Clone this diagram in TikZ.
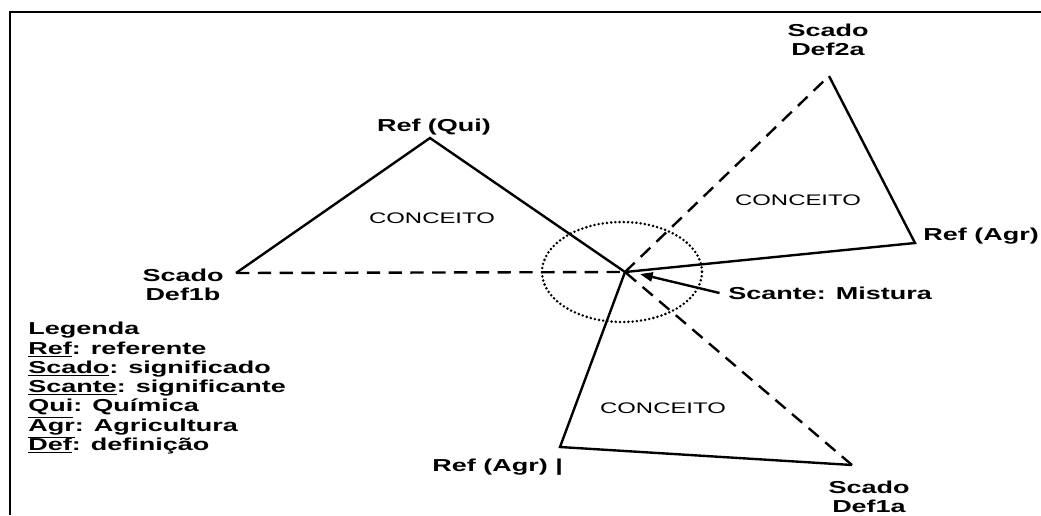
\documentclass[tikz,border=0pt]{standalone}
\usepackage{fontspec}
\setmainfont{Liberation Sans}
\usetikzlibrary{positioning, calc, arrows.meta}

\begin{document}
\begin{tikzpicture}[x=0.025cm, y=-0.025cm,
               rotulo/.style={font=\bfseries\fontsize{12.3}{13.7}\selectfont, xscale=1.56, align=center, inner sep=0pt},
               conceito/.style={font=\fontsize{10.9}{12}\selectfont, xscale=1.56, inner sep=0pt},
               lado/.style={line width=1.7pt},
               tracejado/.style={line width=1.7pt, dash pattern=on 9.5pt off 6pt},
               pontilhado/.style={line width=2pt, line cap=round, dash pattern=on 0pt off 3pt}]
               \useasboundingbox (0,0) rectangle (1041,515);
               \draw[line width=2pt] (10,515)--(10,12)--(1041,12);
               % vertices
               \coordinate (c) at (625,272);
               \coordinate (qui) at (430,138);
               \coordinate (d1b) at (236,273);
               \coordinate (d2a) at (829,76);
               \coordinate (agr1) at (915,243);
               \coordinate (agr2) at (560,447);
               \coordinate (d1a) at (852,465);
               \coordinate (seta) at (640,274);
               % triangulos
               \draw[lado] (d1b)--(qui)--(c);
               \draw[tracejado] (d1b)--(c);
               \draw[tracejado] (c)--(d2a);
               \draw[lado] (d2a)--(agr1)--(c);
               \draw[lado] (c)--(agr2)--(d1a);
               \draw[tracejado] (d1a)--(c);
               \draw[pontilhado] (622,272) ellipse (80 and 50);
               % rotulos
               \node[rotulo] (refqui) at (434,127) {Ref (Qui)};
               \node[rotulo] (def1b) at (183,285) {Scado\\Def1b};
               \node[rotulo] (def2a) at (828,40) {Scado\\Def2a};
               \node[rotulo, anchor=west] (refagr1) at (923,236) {Ref (Agr)};
               \node[rotulo, anchor=west] (refagr2) at (432,467) {Ref (Agr) |};
               \node[rotulo] (def1a) at (869,497) {Scado\\Def1a};
               \node[rotulo, anchor=west] (scante) at (728,293) {Scante: Mistura};
               \node[conceito] (conc1) at (432,218) {CONCEITO};
               \node[conceito] (conc2) at (798,200) {CONCEITO};
               \node[conceito] (conc3) at (663,408) {CONCEITO};
               \draw[lado, -{Triangle[length=9pt, width=6.5pt]}] ([xshift=-6pt]scante.west)--(seta);
               % legenda
               \node[rotulo, align=left, anchor=north west] (legenda) at (28,322)
                    {Legenda\\\underline{Ref}: referente\\\underline{Scado}: significado\\\underline{Scante}: significante\\\underline{Qui}: Química\\\underline{Agr}: Agricultura\\\underline{Def}: definição};
          \end{tikzpicture}
\end{document}
